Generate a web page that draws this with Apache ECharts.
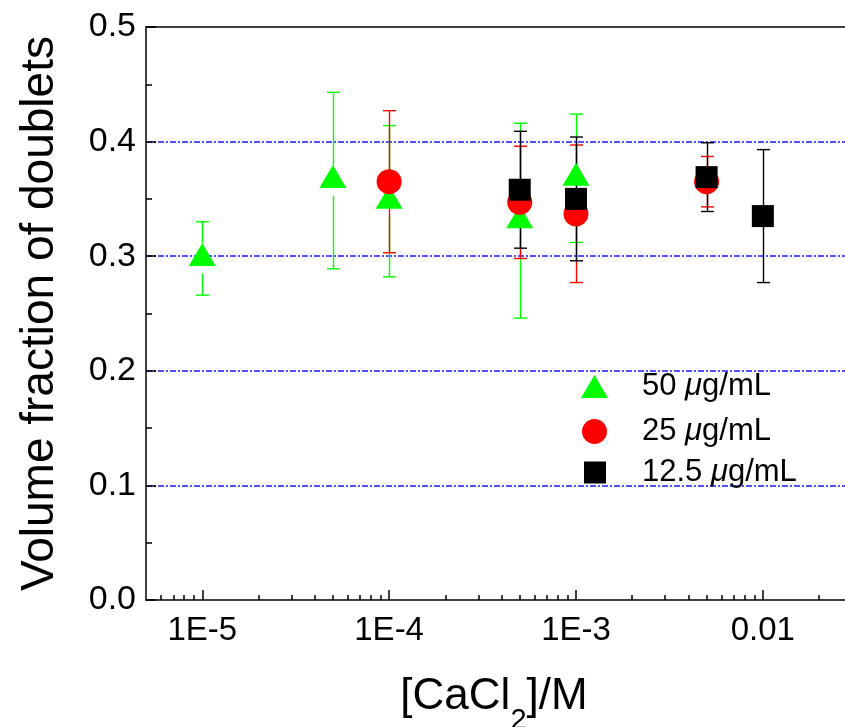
<!DOCTYPE html>
<html>
<head>
<meta charset="utf-8">
<script src="https://cdn.jsdelivr.net/npm/echarts@6/dist/echarts.min.js"></script>
<style>
  html, body { margin: 0; padding: 0; background: #fff; }
  #chart { width: 845px; height: 727px; }
</style>
</head>
<body>
<div id="chart"></div>
<script>
const FONT = "'Liberation Sans', Arial, Helvetica, sans-serif";

// [CaCl2] in M, volume fraction of doublets and its ± error, per polymer dose
const conc50 = [1e-5, 5e-5, 1e-4, 5e-4, 1e-3];
const frac50 = [0.298, 0.366, 0.348, 0.331, 0.368];
const err50  = [0.032, 0.077, 0.066, 0.085, 0.056];

const conc25 = [1e-4, 5e-4, 1e-3, 5e-3];
const frac25 = [0.365, 0.347, 0.337, 0.365];
const err25  = [0.062, 0.049, 0.060, 0.022];

const conc12 = [5e-4, 1e-3, 5e-3, 1e-2];
const frac12 = [0.358, 0.350, 0.369, 0.335];
const err12  = [0.051, 0.054, 0.030, 0.058];

const seriesNames = ['50 μg/mL', '25 μg/mL', '12.5 μg/mL'];

// axis ticks
const xMajorTicks = [1e-5, 1e-4, 1e-3, 1e-2];
const xTickLabels = ['1E-5', '1E-4', '1E-3', '0.01'];
const xMinorTicks = [
  6e-6, 7e-6, 8e-6, 9e-6,
  2e-5, 3e-5, 4e-5, 5e-5, 6e-5, 7e-5, 8e-5, 9e-5,
  2e-4, 3e-4, 4e-4, 5e-4, 6e-4, 7e-4, 8e-4, 9e-4,
  2e-3, 3e-3, 4e-3, 5e-3, 6e-3, 7e-3, 8e-3, 9e-3,
  2e-2
];
const yTickLabels = ['0.0', '0.1', '0.2', '0.3', '0.4', '0.5'];

const X_MIN = 5e-6, X_MAX = 0.03;

function points(xs, ys) { return xs.map((x, i) => [x, ys[i]]); }
function bars(xs, ys, es) { return xs.map((x, i) => [x, ys[i], es[i]]); }

// vertical error bar with caps; "gap" leaves the line open around the marker
function errorBars(color, data, gap) {
  return {
    type: 'custom',
    name: 'err-' + color,
    data: data,
    encode: { x: 0, y: 1 },
    silent: true,
    z: 2,
    renderItem: function (params, api) {
      const x = api.value(0), y = api.value(1), e = api.value(2);
      const c = api.coord([x, y]);
      const hi = api.coord([x, y + e]);
      const lo = api.coord([x, y - e]);
      const px = Math.round(c[0]) + 0.5;
      const hw = 6.5;
      const style = { stroke: color, lineWidth: 1.4, fill: null };
      const children = [];
      if (gap > 0) {
        children.push({ type: 'line', shape: { x1: px, y1: hi[1], x2: px, y2: c[1] - gap }, style: style });
        children.push({ type: 'line', shape: { x1: px, y1: c[1] + gap, x2: px, y2: lo[1] }, style: style });
      } else {
        children.push({ type: 'line', shape: { x1: px, y1: hi[1], x2: px, y2: lo[1] }, style: style });
      }
      children.push({ type: 'line', shape: { x1: px - hw, y1: hi[1], x2: px + hw, y2: hi[1] }, style: style });
      children.push({ type: 'line', shape: { x1: px - hw, y1: lo[1], x2: px + hw, y2: lo[1] }, style: style });
      return { type: 'group', children: children };
    }
  };
}

function markers(name, data, symbol, size, color, offset) {
  return {
    type: 'scatter',
    name: name,
    data: data,
    symbol: symbol,
    symbolSize: size,
    symbolOffset: offset || [0, 0],
    itemStyle: { color: color, opacity: 1 },
    emphasis: { disabled: true },
    z: 3
  };
}

function legendFor(name, left, top, w, h, gapWidth) {
  return {
    data: [name],
    left: left, top: top,
    itemWidth: w, itemHeight: h,
    selectedMode: false,
    padding: 0,
    formatter: n => '{gap| }' + n.replace('μ', '{mu|μ}'),
    textStyle: {
      fontFamily: FONT, fontSize: 31, color: '#000',
      rich: {
        gap: { width: gapWidth, fontSize: 31 },
        mu: { fontFamily: FONT, fontSize: 31, fontStyle: 'italic', color: '#000' }
      }
    }
  };
}

const logAxisBase = { type: 'log', logBase: 10, min: X_MIN, max: X_MAX, gridIndex: 0, splitLine: { show: false } };

const chart = echarts.init(document.getElementById('chart'), null, { renderer: 'canvas' });
chart.setOption({
  animation: false,
  backgroundColor: '#fff',
  grid: { left: 146, right: -7, top: 27, bottom: 127, containLabel: false, outerBoundsMode: 'none' },
  xAxis: [
    Object.assign({}, logAxisBase, {
      position: 'bottom',
      axisLine: { show: true, lineStyle: { color: '#000', width: 1.5 } },
      axisTick: { show: true, inside: true, length: 10, customValues: xMajorTicks, lineStyle: { color: '#000', width: 1.5 } },
      axisLabel: {
        show: true, customValues: xMajorTicks, margin: 14,
        fontFamily: FONT, fontSize: 33, color: '#000',
        formatter: v => {
          const i = xMajorTicks.findIndex(t => Math.abs(Math.log10(t) - Math.log10(v)) < 1e-6);
          return i >= 0 ? xTickLabels[i] : '';
        }
      },
      name: '[CaCl{sub|2}]/M',
      nameLocation: 'middle',
      nameGap: 58,
      nameTextStyle: {
        fontFamily: FONT, fontSize: 44, color: '#000', padding: [0, 10, 0, 0],
        rich: { sub: { fontFamily: FONT, fontSize: 29, color: '#000', padding: [48, 0, 0, 0] } }
      }
    }),
    Object.assign({}, logAxisBase, {
      position: 'bottom',
      axisLine: { show: false },
      axisTick: { show: true, inside: true, length: 5, customValues: xMinorTicks, lineStyle: { color: '#000', width: 1.5 } },
      axisLabel: { show: false }
    }),
    Object.assign({}, logAxisBase, {
      position: 'top',
      axisLine: { show: true, lineStyle: { color: '#000', width: 1.5 } },
      axisTick: { show: false },
      axisLabel: { show: false }
    })
  ],
  yAxis: {
    type: 'value',
    min: 0, max: 0.5, interval: 0.1,
    axisLine: { show: true, lineStyle: { color: '#000', width: 1.5 } },
    axisTick: { show: true, inside: true, length: 10, lineStyle: { color: '#000', width: 1.5 } },
    minorTick: { show: true, splitNumber: 2, length: 6, lineStyle: { color: '#000', width: 1.5 } },
    axisLabel: {
      margin: 10, fontFamily: FONT, fontSize: 34, color: '#000',
      formatter: v => yTickLabels[Math.round(v * 10)]
    },
    splitLine: {
      show: true, showMinLine: false, showMaxLine: false,
      lineStyle: { color: '#1a1aff', width: 1.6, type: [6, 2, 2, 2] }
    },
    name: 'Volume fraction of doublets',
    nameLocation: 'middle',
    nameGap: 83,
    nameTextStyle: { fontFamily: FONT, fontSize: 46, color: '#000' }
  },
  legend: [
    legendFor(seriesNames[0], 581, 371, 27, 23, 29),
    legendFor(seriesNames[1], 582, 416, 25, 25, 30),
    legendFor(seriesNames[2], 584, 457, 22, 22, 31)
  ],
  series: [
    errorBars('#00ff00', bars(conc50, frac50, err50), 15),
    markers(seriesNames[0], points(conc50, frac50), 'triangle', [27, 23], '#00ff00', [0, -4]),
    errorBars('#ff0000', bars(conc25, frac25, err25), 0),
    markers(seriesNames[1], points(conc25, frac25), 'circle', 25, '#ff0000'),
    errorBars('#000000', bars(conc12, frac12, err12), 0),
    markers(seriesNames[2], points(conc12, frac12), 'rect', 22, '#000000')
  ]
});
</script>
</body>
</html>
